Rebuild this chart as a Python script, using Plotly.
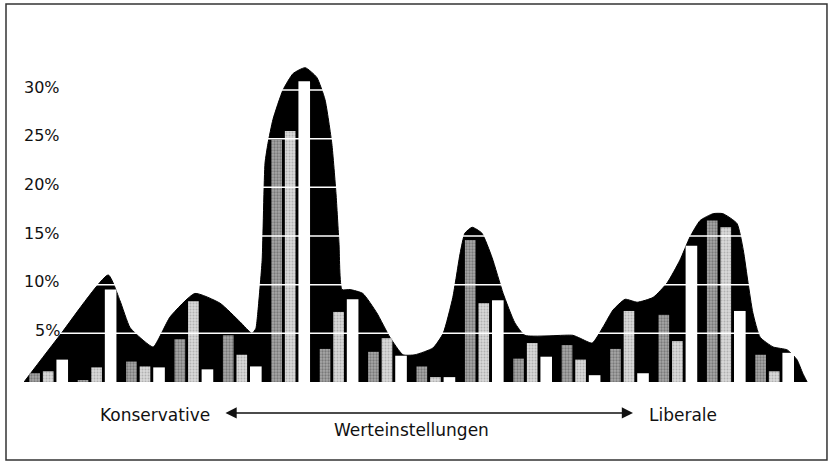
import plotly.graph_objects as go

# ---- data ----
groups = list(range(16))
dark_vals = [0.9, 0.2, 2.1, 4.4, 4.8, 24.9, 3.4, 3.1, 1.6, 14.6, 2.4, 3.8, 3.4, 6.9, 16.6, 2.8]
light_vals = [1.1, 1.5, 1.6, 8.3, 2.8, 25.8, 7.2, 4.5, 0.5, 8.1, 4.0, 2.3, 7.3, 4.2, 15.9, 1.1]
white_vals = [2.3, 9.5, 1.5, 1.3, 1.6, 30.9, 8.5, 2.7, 0.5, 8.4, 2.6, 0.7, 0.9, 14.0, 7.3, 3.0]

env_x = [-0.50, 0.24, 1.24, 1.48, 1.69, 1.96, 2.17, 2.52, 3.03, 3.55, 3.96, 4.21, 4.29, 4.33,
         4.42, 4.48, 4.54, 4.645, 4.85, 5.06, 5.31, 5.55, 5.72, 5.86, 5.946, 6.008, 6.07, 6.24,
         6.50, 6.79, 7.06, 7.33, 7.58, 7.95, 8.16, 8.36, 8.51, 8.61, 8.76, 8.96, 9.17, 9.40,
         9.64, 9.85, 10.84, 10.99, 11.24, 11.47, 11.67, 11.92, 12.17, 12.50, 12.79, 13.05,
         13.26, 13.47, 13.74, 13.94, 14.23, 14.36, 14.46, 14.56, 14.71, 14.98, 15.27, 15.47,
         15.59, 15.68]
env_y = [0.0, 4.8, 11.0, 8.4, 5.6, 4.3, 3.6, 6.7, 9.1, 8.1, 6.2, 5.0, 5.5, 7.1,
         12.5, 22.5, 24.5, 27.0, 30.0, 31.7, 32.3, 31.3, 29.0, 24.5, 19.4, 14.3, 9.5, 9.5,
         9.1, 7.1, 4.6, 2.8, 2.8, 3.5, 5.0, 8.7, 13.2, 15.3, 15.9, 15.3, 12.8, 9.1,
         6.1, 4.8, 4.8, 4.5, 4.0, 5.7, 7.4, 8.5, 8.2, 8.7, 10.2, 12.5,
         14.9, 16.6, 17.3, 17.3, 16.3, 13.6, 10.2, 7.1, 4.6, 3.6, 3.3, 2.3,
         0.9, 0.0]

tick_vals = [5, 10, 15, 20, 25, 30]
tick_text = ["5%", "10%", "15%", "20%", "25%", "30%"]

label_left = "Konservative"
label_right = "Liberale"
label_axis = "Werteinstellungen"

FONT = "DejaVu Sans"
X_RANGE = [-0.5, 15.74]
Y_RANGE = [0, 33.5]

fig = go.Figure()

# black envelope on the base axes
fig.add_trace(go.Scatter(
    x=env_x, y=env_y, mode="lines", fill="tozeroy",
    line=dict(color="black", width=1, shape="spline", smoothing=0.5),
    fillcolor="black", hoverinfo="skip", xaxis="x", yaxis="y"))

# bars on overlaid axes so that they sit above the envelope
fig.add_trace(go.Bar(x=groups, y=dark_vals, width=0.22, offset=-0.39,
                     marker=dict(color="#9a9a9a", line=dict(width=0),
                                 pattern=dict(shape=".", fgcolor="#4a4a4a", bgcolor="#a8a8a8",
                                              size=3, solidity=0.45)),
                     xaxis="x2", yaxis="y2"))
fig.add_trace(go.Bar(x=groups, y=light_vals, width=0.22, offset=-0.11,
                     marker=dict(color="#d0d0d0", line=dict(width=0),
                                 pattern=dict(shape=".", fgcolor="#8a8a8a", bgcolor="#d8d8d8",
                                              size=3, solidity=0.35)),
                     xaxis="x2", yaxis="y2"))
fig.add_trace(go.Bar(x=groups, y=white_vals, width=0.24, offset=0.17,
                     marker=dict(color="white", line=dict(width=0)),
                     xaxis="x2", yaxis="y2"))

shapes = []
for v in tick_vals:
    shapes.append(dict(type="line", xref="paper", yref="y", x0=0, x1=1, y0=v, y1=v,
                       line=dict(color="white", width=1.5), layer="above"))
# outer frame
shapes.append(dict(type="rect", xref="paper", yref="paper",
                   x0=-0.0229, x1=1.0216, y0=-0.239, y1=1.1595,
                   line=dict(color="#333333", width=1.5), layer="above"))

annotations = []
for v, t in zip(tick_vals, tick_text):
    annotations.append(dict(xref="paper", yref="y", x=0.0485, y=v, text=t,
                            showarrow=False, xanchor="right", yanchor="middle", yshift=3,
                            font=dict(family=FONT, size=16, color="#111")))

annotations.append(dict(xref="paper", yref="paper", x=0.239, y=-0.101, text=label_left,
                        showarrow=False, xanchor="right", yanchor="middle",
                        font=dict(family=FONT, size=17, color="#111")))
annotations.append(dict(xref="paper", yref="paper", x=0.7926, y=-0.101, text=label_right,
                        showarrow=False, xanchor="left", yanchor="middle",
                        font=dict(family=FONT, size=17, color="#111")))
annotations.append(dict(xref="paper", yref="paper", x=0.4936, y=-0.147, text=label_axis,
                        showarrow=False, xanchor="center", yanchor="middle",
                        font=dict(family=FONT, size=17, color="#111")))
annotations.append(dict(xref="paper", yref="paper", x=0.7748, y=-0.095, text="",
                        showarrow=True, axref="pixel", ayref="pixel", ax=-409, ay=0,
                        arrowside="end+start", arrowhead=2, arrowsize=1.4, arrowwidth=1.6,
                        arrowcolor="#111"))

fig.update_layout(
    width=828, height=461,
    margin=dict(l=24, r=18, t=56, b=79),
    paper_bgcolor="white", plot_bgcolor="white",
    barmode="overlay", showlegend=False, hovermode=False,
    xaxis=dict(range=X_RANGE, visible=False, fixedrange=True),
    yaxis=dict(range=Y_RANGE, visible=False, fixedrange=True),
    xaxis2=dict(range=X_RANGE, visible=False, fixedrange=True, overlaying="x"),
    yaxis2=dict(range=Y_RANGE, visible=False, fixedrange=True, overlaying="y"),
    shapes=shapes, annotations=annotations,
)

fig.write_html("out.html", config={"displayModeBar": False},
               post_script="document.body.style.margin='0';document.body.style.overflow='hidden';")
